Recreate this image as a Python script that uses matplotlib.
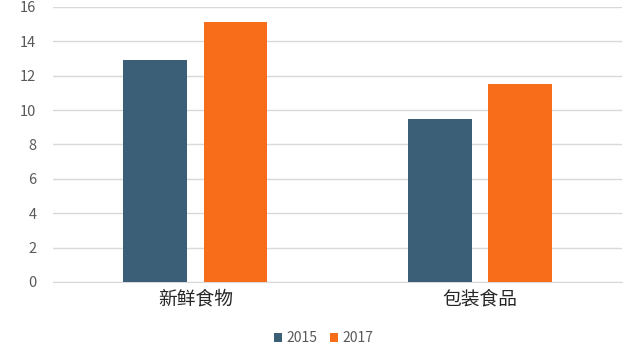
import matplotlib
matplotlib.use("Agg")
import matplotlib.pyplot as plt
import numpy as np

plt.rcParams['font.family'] = ['Noto Sans CJK SC', 'DejaVu Sans']

categories = ['新鲜食物', '包装食品']
series_names = ['2015', '2017']
values_2015 = [12.9, 9.5]
values_2017 = [15.1, 11.5]
yticks = [0, 2, 4, 6, 8, 10, 12, 14, 16]

colors = ['#3b5f77', '#f76d19']

fig = plt.figure(figsize=(6.4, 3.6), dpi=100)
ax = fig.add_axes([0.083, 0.2167, 0.889, 0.764])

x = np.arange(len(categories))
w = 0.224
off = 0.141
ax.bar(x - off, values_2015, w, color=colors[0], label=series_names[0], zorder=3)
ax.bar(x + off, values_2017, w, color=colors[1], label=series_names[1], zorder=3)

ax.set_xlim(-0.5, 1.5)
ax.set_ylim(0, 16)
ax.set_yticks(yticks)
ax.set_yticklabels([str(v) for v in yticks], fontsize=10.5, color='#595959')
ax.yaxis.grid(True, color='#d9d9d9', linewidth=1, zorder=0)
ax.set_xticks(x)
ax.set_xticklabels(categories, fontsize=13.5, color='#262626')
ax.tick_params(axis='y', length=0, pad=12)
ax.tick_params(axis='x', length=0, pad=5)
for s in ['top', 'right', 'left']:
    ax.spines[s].set_visible(False)
ax.spines['bottom'].set_color('#d9d9d9')

fig.legend(loc='center', bbox_to_anchor=(0.505, 0.06), ncol=2, frameon=False,
           fontsize=10, handlelength=0.6, handleheight=0.6, handletextpad=0.3,
           columnspacing=0.9, labelcolor='#595959')

fig.savefig('out.png', dpi=100)
